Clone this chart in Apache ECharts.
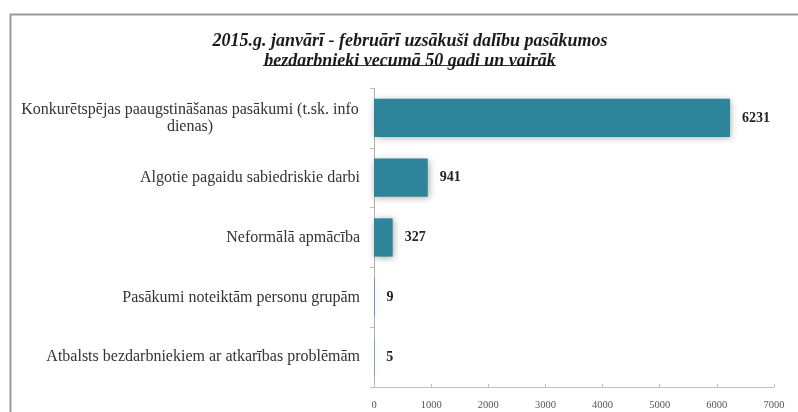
<!DOCTYPE html>
<html><head><meta charset="utf-8">
<script src="https://cdn.jsdelivr.net/npm/echarts@6/dist/echarts.min.js"></script>
<style>html,body{margin:0;padding:0;background:#fff}#c{width:798px;height:412px}</style>
</head><body><div id="c"></div>
<script>
const titleLine1 = '2015.g. janvārī - februārī uzsākuši dalību pasākumos';
const titleLine2 = 'bezdarbnieki vecumā 50 gadi un vairāk';
const categories = [
  'Konkurētspējas paaugstināšanas pasākumi (t.sk. info dienas)',
  'Algotie pagaidu sabiedriskie darbi',
  'Neformālā apmācība',
  'Pasākumi noteiktām personu grupām',
  'Atbalsts bezdarbniekiem ar atkarības problēmām'
];
const firstCategoryLines = ['Konkurētspējas paaugstināšanas pasākumi (t.sk. info', 'dienas)'];
const values = [6231, 941, 327, 9, 5];
const xMin = 0, xMax = 7000, xStep = 1000;

const chart = echarts.init(document.getElementById('c'));
const serif = 'Liberation Serif';
chart.setOption({
  animation: false,
  title: {
    text: '{a|' + titleLine1 + '}\n{a|' + titleLine2 + '}',
    left: 205, top: 26,
    textStyle: { rich: { a: { fontFamily: serif, fontSize: 18, fontWeight: 'bold', fontStyle: 'italic', color: '#1a1a1a', lineHeight: 20, width: 400, align: 'center' } } }
  },
  graphic: [
    { type: 'rect', shape: { x: 10.5, y: 14.5, width: 800, height: 420 }, style: { fill: 'none', stroke: '#9a9a9a', lineWidth: 2 }, silent: true },
    { type: 'line', shape: { x1: 263, y1: 65.5, x2: 556, y2: 65.5 }, style: { stroke: '#333', lineWidth: 1 }, silent: true }
  ],
  grid: { left: 374, right: 24, top: 88, bottom: 25, containLabel: false },
  xAxis: {
    type: 'value', min: xMin, max: xMax, interval: xStep,
    axisLine: { show: true, lineStyle: { color: '#bfbfbf' } },
    axisTick: { show: true, inside: true, length: 3, lineStyle: { color: '#bfbfbf' } },
    splitLine: { show: false },
    axisLabel: { fontFamily: serif, fontSize: 10.5, color: '#555', margin: 13, formatter: function (v) { return String(v); } }
  },
  yAxis: {
    type: 'category', data: categories, inverse: true,
    axisLine: { show: true, lineStyle: { color: '#b0b0b0' } },
    axisTick: { show: true, length: 4, lineStyle: { color: '#bfbfbf' } },
    axisLabel: {
      fontFamily: serif, fontSize: 16, color: '#333', margin: 14,
      formatter: function (v, i) {
        if (i === 0) return firstCategoryLines.map(function (s) { return '{c|' + s + '}'; }).join('\n');
        return v;
      },
      rich: { c: { fontFamily: serif, fontSize: 16, color: '#333', width: 340, align: 'center', lineHeight: 17 } }
    }
  },
  series: [{
    type: 'bar', data: values, barCategoryGap: '36%',
    itemStyle: { color: '#2e8499', shadowBlur: 7, shadowColor: 'rgba(0,0,0,0.35)', shadowOffsetX: 1, shadowOffsetY: 1 },
    label: { show: true, position: 'right', distance: 12, fontFamily: serif, fontSize: 14, fontWeight: 'bold', color: '#222' }
  }]
});
</script></body></html>
